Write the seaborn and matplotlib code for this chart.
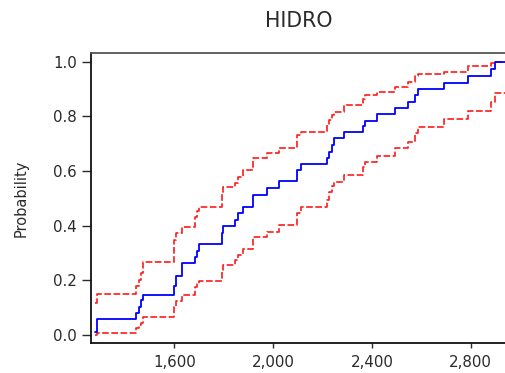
import matplotlib
matplotlib.use("Agg")
import matplotlib.pyplot as plt
import seaborn as sns
import pandas as pd

# Observation values (x) at which the empirical CDF jumps, last entry = max of range
x_vals = [1280, 1288, 1445, 1457, 1465, 1474, 1600, 1606, 1633, 1684, 1691, 1700,
          1792, 1798, 1846, 1859, 1879, 1920, 1974, 2025, 2096, 2112, 2217, 2228,
          2237, 2247, 2287, 2363, 2372, 2422, 2494, 2547, 2575, 2588, 2693, 2790,
          2881, 2898, 2947]

# Empirical CDF
ecdf_p = [0.012, 0.057, 0.080, 0.104, 0.128, 0.145, 0.179, 0.216, 0.265, 0.287,
          0.309, 0.333, 0.374, 0.399, 0.421, 0.445, 0.468, 0.512, 0.537, 0.562,
          0.604, 0.626, 0.647, 0.671, 0.695, 0.720, 0.744, 0.765, 0.784, 0.809,
          0.830, 0.854, 0.878, 0.899, 0.923, 0.948, 0.972, 1.000, 1.000]

# Upper confidence band
upper_p = [0.116, 0.150, 0.179, 0.201, 0.226, 0.268, 0.348, 0.372, 0.396, 0.433,
           0.454, 0.469, 0.518, 0.540, 0.555, 0.577, 0.604, 0.647, 0.667, 0.685,
           0.732, 0.744, 0.768, 0.787, 0.805, 0.817, 0.842, 0.864, 0.878, 0.889,
           0.906, 0.927, 0.948, 0.955, 0.963, 0.984, 0.994, 1.000, 1.000]

# Lower confidence band
lower_p = [0.000, 0.008, 0.025, 0.035, 0.043, 0.065, 0.104, 0.126, 0.145, 0.175,
           0.187, 0.199, 0.238, 0.256, 0.274, 0.293, 0.314, 0.358, 0.378, 0.404,
           0.445, 0.467, 0.494, 0.523, 0.545, 0.561, 0.585, 0.616, 0.634, 0.655,
           0.683, 0.707, 0.738, 0.760, 0.789, 0.820, 0.854, 0.887, 0.887]

x_ticks = [1600, 2000, 2400, 2800]
x_tick_labels = ["1,600", "2,000", "2,400", "2,800"]
y_ticks = [0.0, 0.2, 0.4, 0.6, 0.8, 1.0]
y_tick_labels = ["0.0", "0.2", "0.4", "0.6", "0.8", "1.0"]
title = "HIDRO"
ylabel = "Probability"

sns.set_style("ticks")
plt.rcParams["font.family"] = ["DejaVu Sans"]

W, H = 505, 373
fig = plt.figure(figsize=(W / 100, H / 100), dpi=100)
left, right, top, bottom = 90.7, 507.0, 53.3, 343.3
ax = fig.add_axes([left / W, 1 - bottom / H, (right - left) / W, (bottom - top) / H])

df = pd.DataFrame({"x": x_vals, "ecdf": ecdf_p, "upper": upper_p, "lower": lower_p})

sns.lineplot(data=df, x="x", y="upper", ax=ax, color="#ff1a1a", lw=1.2,
             drawstyle="steps-post", linestyle=(0, (4, 1.5)), estimator=None)
sns.lineplot(data=df, x="x", y="lower", ax=ax, color="#ff1a1a", lw=1.2,
             drawstyle="steps-post", linestyle=(0, (4, 1.5)), estimator=None)
sns.lineplot(data=df, x="x", y="ecdf", ax=ax, color="#0000ff", lw=1.3,
             drawstyle="steps-post", estimator=None)

ax.set_xlim(1262, 2947)
ax.set_ylim(-0.0305, 1.031)
ax.set_xticks(x_ticks)
ax.set_xticklabels(x_tick_labels)
ax.set_yticks(y_ticks)
ax.set_yticklabels(y_tick_labels)
ax.set_xlabel("")
ax.set_ylabel(ylabel, fontsize=10.5, color="#2a2a2a")
ax.yaxis.set_label_coords(-0.149, 0.5)
ax.set_title(title, fontsize=14.8, color="#2a2a2a", pad=19)

ax.tick_params(axis="y", direction="out", length=6.5, width=1.0, pad=3.2,
               labelsize=10.8, colors="#2a2a2a")
ax.tick_params(axis="x", direction="out", length=3.8, width=1.0, pad=4.6,
               labelsize=10.8, colors="#2a2a2a")
for s in ["left", "bottom"]:
    ax.spines[s].set_color("#111111")
    ax.spines[s].set_linewidth(1.3)
ax.spines["top"].set_color("#555555")
ax.spines["top"].set_linewidth(1.3)
ax.spines["right"].set_visible(False)

fig.savefig("out.png", dpi=100)
